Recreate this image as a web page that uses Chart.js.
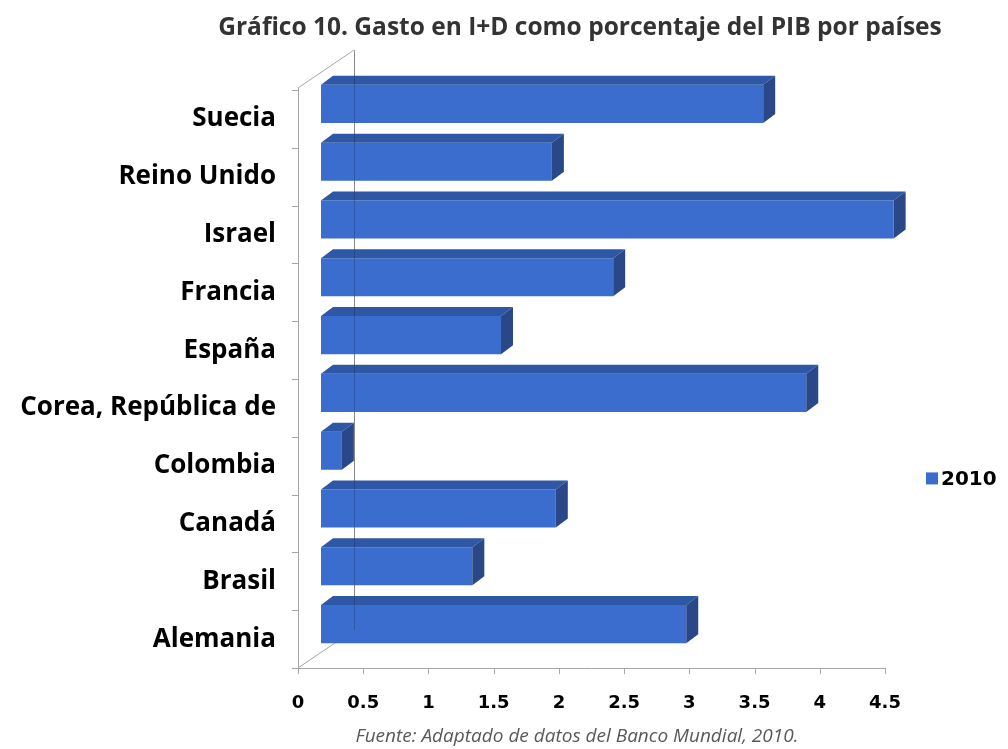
<!DOCTYPE html>
<html>
<head>
<meta charset="utf-8">
<script src="https://cdn.jsdelivr.net/npm/chart.js@4/dist/chart.umd.min.js"></script>
<style>
  html, body { margin: 0; padding: 0; background: #ffffff; }
  #wrap { width: 1008px; height: 749px; }
</style>
</head>
<body>
<div id="wrap"><canvas id="rdChart"></canvas></div>
<script>
// Datos (Banco Mundial, 2010) - orden alfabetico, Alemania abajo
const paises = ['Alemania', 'Brasil', 'Canadá', 'Colombia', 'Corea, República de',
                'España', 'Francia', 'Israel', 'Reino Unido', 'Suecia'];
const gasto2010 = [2.80, 1.16, 1.80, 0.16, 3.72, 1.38, 2.24, 4.39, 1.77, 3.39];
const serie = '2010';
const ejeX = { min: 0, max: 4.5, paso: 0.5 };
const titulo = 'Gráfico 10. Gasto en I+D como porcentaje del PIB por países';
const fuente = 'Fuente: Adaptado de datos del Banco Mundial, 2010.';

// colores de las caras de la barra 3D
const frente = '#3a6dcd';
const techo = '#2e57a5';
const lado = '#2a4888';
const gris = '#a6a6a6';

// desplazamiento de profundidad (pared del fondo y barras)
const fondoDx = 56, fondoDy = 38;
const barraDx = 23, barraDy = 15;
const grosorDx = 12, grosorDy = 9;

const efecto3d = {
    id: 'efecto3d',
    beforeDatasetsDraw(chart) {
        const { ctx, chartArea: a, scales: { x } } = chart;
        ctx.save();
        ctx.strokeStyle = gris;
        ctx.lineWidth = 1;
        ctx.beginPath();
        // eje vertical frontal y pared del fondo
        ctx.moveTo(a.left + 0.5, a.top - 2);
        ctx.lineTo(a.left + 0.5, a.bottom);
        ctx.moveTo(a.left, a.top - 2);
        ctx.lineTo(a.left + fondoDx, a.top - 2 - fondoDy);
        ctx.moveTo(a.left, a.bottom);
        ctx.lineTo(a.left + fondoDx, a.bottom - fondoDy);
        ctx.moveTo(a.left + fondoDx + 0.5, a.top - 2 - fondoDy);
        ctx.lineTo(a.left + fondoDx + 0.5, a.bottom - fondoDy);
        // marcas entre categorias
        const banda = (a.bottom - a.top) / paises.length;
        for (let i = 0; i <= paises.length; i++) {
            const yy = Math.round(a.top + i * banda) + 0.5;
            ctx.moveTo(a.left - 6, yy);
            ctx.lineTo(a.left, yy);
        }
        // eje horizontal con marcas
        ctx.moveTo(a.left, a.bottom + 0.5);
        ctx.lineTo(a.right, a.bottom + 0.5);
        for (let v = ejeX.min; v <= ejeX.max + 1e-9; v += ejeX.paso) {
            const xx = Math.round(x.getPixelForValue(v)) + 0.5;
            ctx.moveTo(xx, a.bottom);
            ctx.lineTo(xx, a.bottom + 6);
        }
        ctx.stroke();
        ctx.restore();

        ctx.save();
        ctx.translate(barraDx, -barraDy);
    },
    afterDatasetsDraw(chart) {
        const { ctx, chartArea: a } = chart;
        const meta = chart.getDatasetMeta(0);
        meta.data.forEach(bar => {
            const { x, y, base, height } = bar.getProps(['x', 'y', 'base', 'height'], true);
            const t = y - height / 2, b = y + height / 2;
            // cara superior
            ctx.fillStyle = techo;
            ctx.beginPath();
            ctx.moveTo(base, t);
            ctx.lineTo(base + grosorDx, t - grosorDy);
            ctx.lineTo(x + grosorDx, t - grosorDy);
            ctx.lineTo(x, t);
            ctx.closePath();
            ctx.fill();
            // cara lateral
            ctx.fillStyle = lado;
            ctx.beginPath();
            ctx.moveTo(x, t);
            ctx.lineTo(x + grosorDx, t - grosorDy);
            ctx.lineTo(x + grosorDx, b - grosorDy);
            ctx.lineTo(x, b);
            ctx.closePath();
            ctx.fill();
        });
        ctx.restore();

        // linea del fondo que se ve a traves de las barras
        ctx.save();
        ctx.strokeStyle = 'rgba(0,0,0,0.18)';
        ctx.beginPath();
        ctx.moveTo(a.left + fondoDx + 0.5, a.top - fondoDy);
        ctx.lineTo(a.left + fondoDx + 0.5, a.bottom - fondoDy);
        ctx.stroke();
        ctx.restore();
    },
    afterDraw(chart) {
        const { ctx, chartArea: a } = chart;
        ctx.save();
        ctx.textBaseline = 'middle';
        // titulo
        ctx.textAlign = 'center';
        ctx.fillStyle = '#333333';
        ctx.font = 'bold 24.5px "Open Sans"';
        ctx.fillText(titulo, 580, 28);
        // fuente
        ctx.fillStyle = '#595959';
        ctx.font = 'italic 19px "Open Sans"';
        ctx.fillText(fuente, 577, 737);
        // leyenda
        const ly = a.top + (a.bottom - a.top) * 0.672;
        const lx = a.right + 41;
        ctx.fillStyle = frente;
        ctx.fillRect(lx, ly - 6, 12, 12);
        ctx.textAlign = 'left';
        ctx.fillStyle = '#000000';
        ctx.font = 'bold 20px "DejaVu Sans"';
        ctx.fillText(serie, lx + 15, ly + 1);
        ctx.restore();
    }
};

const rdCtx = document.getElementById('rdChart').getContext('2d');
new Chart(rdCtx, {
    type: 'bar',
    data: {
        labels: paises,
        datasets: [{
            label: serie,
            data: gasto2010,
            backgroundColor: frente,
            borderWidth: 0,
            categoryPercentage: 1,
            barPercentage: 0.66,
            clip: false
        }]
    },
    options: {
        indexAxis: 'y',
        responsive: true,
        maintainAspectRatio: false,
        animation: false,
        layout: { padding: { left: 0, right: 123, top: 90, bottom: 31 } },
        scales: {
            x: {
                min: ejeX.min,
                max: ejeX.max,
                grid: { display: false },
                border: { display: false },
                ticks: {
                    stepSize: ejeX.paso,
                    padding: 16.7,
                    color: '#000000',
                    font: { family: 'DejaVu Sans', size: 18, weight: 'bold' },
                    callback: value => String(value)
                },
                afterFit(scale) { scale.height = 50; }
            },
            y: {
                reverse: true,
                grid: { display: false },
                border: { display: false },
                ticks: {
                    padding: 14,
                    color: '#000000',
                    font: { family: 'Open Sans', size: 26, weight: 'bold' }
                },
                afterFit(scale) { scale.width = 298; }
            }
        },
        plugins: {
            legend: { display: false },
            tooltip: { enabled: false },
            title: { display: false }
        }
    },
    plugins: [efecto3d]
});
</script>
</body>
</html>
